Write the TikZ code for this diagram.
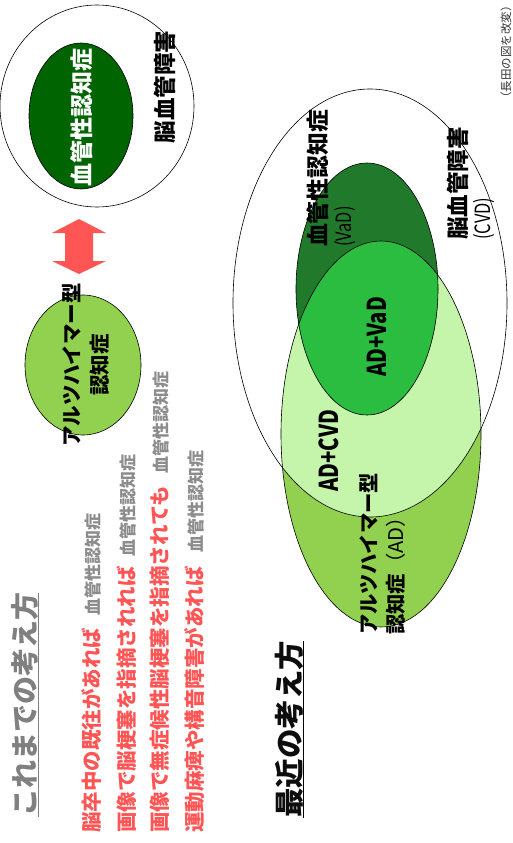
\documentclass[tikz,border=0pt]{standalone}
\usepackage{fontspec}
\setmainfont{Noto Sans CJK JP}
\usetikzlibrary{shapes.geometric}
\definecolor{vdarkold}{HTML}{006400}
\definecolor{vadgreen}{HTML}{217A2C}
\definecolor{mixgreen}{HTML}{2BBD3F}
\definecolor{adlight}{HTML}{C4F5AA}
\definecolor{admid}{HTML}{92D050}
\definecolor{arrowred}{HTML}{FF5555}
\definecolor{redtxt}{HTML}{FF5555}
\definecolor{graytxt}{HTML}{8C8C8C}
\definecolor{titlegray}{HTML}{808080}
\newcommand{\fsz}[1]{\fontsize{#1}{#1}\selectfont}
\newcommand{\narrow}[1]{\scalebox{0.78}[1]{#1}}
\begin{document}
\begin{tikzpicture}[x=1pt,y=-1pt,
  jp/.style={rotate=90, inner sep=0pt},
  outl/.style={draw=black, line width=0.6pt},
  venn/.style={ellipse, inner sep=0pt},
]
\useasboundingbox (0,0) rectangle (513,843);

% ---------- old view (top-left) ----------
\node[venn, outl, fill=white, minimum width=194pt, minimum height=202pt] (cvdold) at (97,106) {};
\node[venn, outl, fill=vdarkold, minimum width=104pt, minimum height=146pt] (vadold) at (81,116) {};
\node[jp, text=white, font=\bfseries\fsz{23}] (vadoldt) at (82,117) {血管性認知症};
\node[jp, font=\bfseries\fsz{22.5}] (cvdoldt) at (165,87) {脳血管障害};

\fill[arrowred] (79,219) -- (106,233) -- (93,233) -- (93,261) -- (106,261) -- (79,274)
  -- (52,261) -- (65,261) -- (65,233) -- (52,233) -- cycle;

\node[venn, outl, fill=admid, minimum width=116pt, minimum height=140pt] (adold) at (83,365) {};
\node[jp, align=center, font=\bfseries\fsz{20.5}] (adoldt) at (86,365)
  {\fsz{20.5}アルツハイマー型\\[7pt]\fsz{20.5}認知症};

% ---------- old view text ----------
\node[jp, anchor=west, text=titlegray, font=\bfseries\fsz{28}] (t1) at (25,817) {これまでの考え方};
\draw[titlegray, line width=1.3pt] (t1.south west) -- (t1.south east);

\node[jp, anchor=west, font=\bfseries] (l1) at (92,833)
  {\fsz{20.5}\color{redtxt}脳卒中の既往があれば\hspace{12pt}\color{graytxt}\fsz{17}血管性認知症};
\node[jp, anchor=west, font=\bfseries] (l2) at (127,833)
  {\fsz{20.5}\color{redtxt}画像で脳梗塞を指摘されれば\hspace{10pt}\color{graytxt}\fsz{17}血管性認知症};
\node[jp, anchor=west, font=\bfseries] (l3) at (160,833)
  {\fsz{20.5}\color{redtxt}画像で無症候性脳梗塞を指摘されても\hspace{12pt}\color{graytxt}\fsz{17}血管性認知症};
\node[jp, anchor=west, font=\bfseries] (l4) at (195,833)
  {\fsz{20.5}\color{redtxt}運動麻痺や構音障害があれば\hspace{14pt}\color{graytxt}\fsz{17}血管性認知症};

% ---------- recent view (Venn) ----------
\node[venn, fill=white, minimum width=274pt, minimum height=428pt] (cvd) at (370,303) {};
\node[venn, fill=admid, minimum width=200pt, minimum height=386pt] (ad) at (381,434) {};
\begin{scope}
  \clip (381,434) ellipse [x radius=100, y radius=193];
  \fill[adlight] (370,303) ellipse [x radius=137, y radius=214];
\end{scope}
\node[venn, fill=vadgreen, minimum width=142pt, minimum height=252pt] (vad) at (367,289) {};
\begin{scope}
  \clip (367,289) ellipse [x radius=71, y radius=126];
  \fill[mixgreen] (381,434) ellipse [x radius=100, y radius=193];
\end{scope}
\draw[outl] (370,303) ellipse [x radius=137, y radius=214];
\draw[outl] (381,434) ellipse [x radius=100, y radius=193];
\draw[outl] (367,289) ellipse [x radius=71, y radius=126];

\node[jp, anchor=west, align=left] (vadt) at (331,247)
  {\bfseries\fsz{22.8}血管性認知症\\[4pt]\fsz{21}\narrow{(VaD)}};
\node[jp, anchor=west, align=left] (cvdt) at (471,240)
  {\bfseries\fsz{22.5}脳血管障害\\[4pt]\fsz{21}\narrow{(CVD)}};
\node[jp, font=\bfseries\fsz{26}] (mix1) at (377,337) {\narrow{AD+VaD}};
\node[jp, font=\bfseries\fsz{26}] (mix2) at (329,451) {\narrow{AD+CVD}};
\node[jp, anchor=west, align=left] (adt) at (382,635)
  {\bfseries\fsz{20.3}アルツハイマー型\\[7pt]\bfseries\fsz{20.3}認知症\mdseries（AD）};

\node[jp, anchor=west, text=titlegray!10!black] (t2) at (289,818) {\bfseries\fsz{29.5}最近の考え方};
\draw[black, line width=1.3pt] (t2.south west) -- (t2.south east);

\node[jp, anchor=west, font=\fsz{11.5}, text=black!80] (note) at (506,104) {（長田の図を改変）};
\end{tikzpicture}
\end{document}
